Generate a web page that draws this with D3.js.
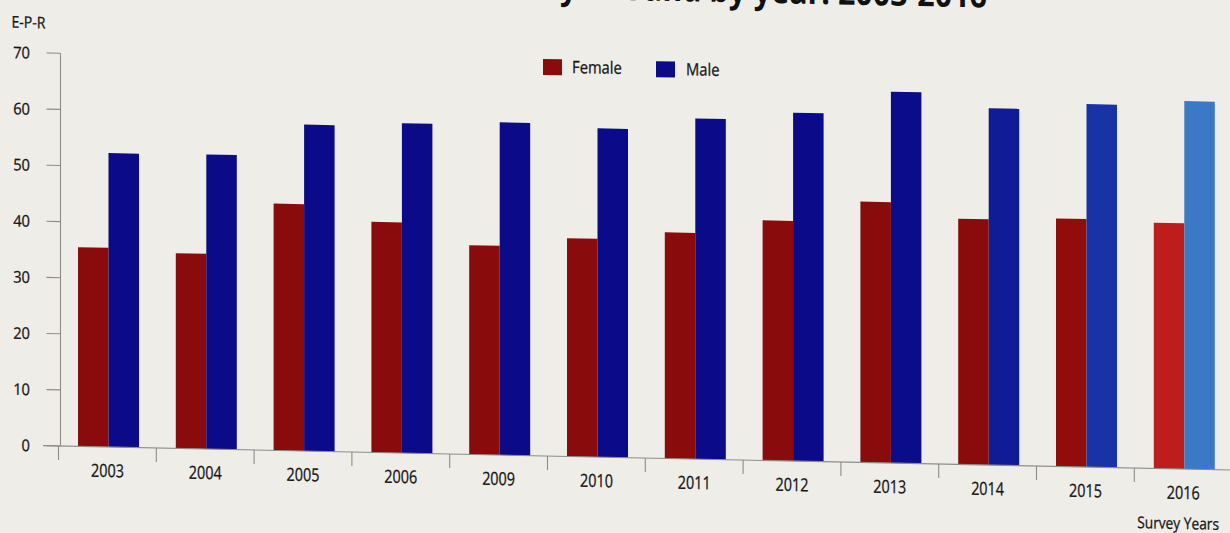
<!DOCTYPE html>
<html>
<head>
<meta charset="utf-8">
<script src="https://cdn.jsdelivr.net/npm/d3@7/dist/d3.min.js"></script>
<style>
  html, body { margin: 0; padding: 0; background: #efede8; }
  svg { display: block; }
  text { font-family: "Open Sans", "Noto Sans", sans-serif; fill: #161616; stroke: #161616; stroke-width: 0.3px; }
</style>
</head>
<body>
<svg id="chart" width="1230" height="533"></svg>
<script>
// ---- data ----
const years = ["2003","2004","2005","2006","2009","2010","2011","2012","2013","2014","2015","2016"];
const seriesNames = ["Female","Male"];
const female = [35.5, 34.8, 44.0, 41.1, 37.3, 38.9, 40.3, 42.8, 46.5, 43.8, 44.2, 43.8];
const male   = [52.4, 52.5, 58.2, 58.8, 59.3, 58.6, 60.7, 62.1, 66.2, 63.6, 64.7, 65.6];
const yTicks = [0, 10, 20, 30, 40, 50, 60, 70];
const yAxisTitle = "E-P-R";
const xAxisTitle = "Survey Years";
const chartTitle = "E-P-R by sex and by year: 2003-2016";

// ---- layout ----
const W = 1230, H = 533;
const svg = d3.select("#chart");
svg.append("rect").attr("width", W).attr("height", H).attr("fill", "#efede8");

// photographed page is slightly tilted: skew everything around the y axis
const tilt = Math.atan(0.0205) * 180 / Math.PI;
const g = svg.append("g").attr("transform", `translate(60,0) skewY(${tilt}) translate(-60,0)`);

const y = d3.scaleLinear().domain([0, 70]).range([446, 53.3]);
const step = 97.8;
const x0 = d3.scaleBand().domain(years).range([58.5, 58.5 + step * years.length]);
const x1 = d3.scaleBand().domain(seriesNames).range([19.5, 80.5]);

const femaleColor = d3.scaleLinear().domain([0, 1000, 1090, 1170])
  .range(["#8a0b0b", "#8a0b0b", "#940c0c", "#bd1d1d"]).clamp(true);
const maleColor = d3.scaleLinear().domain([0, 900, 1005, 1105, 1200])
  .range(["#0b0b8a", "#0b0b8a", "#0f1c96", "#1834a6", "#3b78c6"]).clamp(true);

function ctext(sel, x, yy, str, size, sx, anchor, weight) {
  return sel.append("text")
    .attr("transform", `translate(${x},${yy}) scale(${sx},1)`)
    .attr("text-anchor", anchor || "start")
    .style("font-size", size + "px")
    .style("font-weight", weight || 400)
    .text(str);
}

// title (only its bottom edge lies inside the picture)
ctext(g, 987, -11.5, chartTitle, 35, 0.87, "end", 700).style("fill", "#111").style("stroke", "none");

// y axis title
ctext(g, 11.5, 28.6, yAxisTitle, 16, 0.88, "start");

// bars
const rows = years.map((yr, i) => ({ year: yr, values: [female[i], male[i]] }));
const groups = g.selectAll("g.year").data(rows).join("g").attr("class", "year");
groups.selectAll("rect").data(d => seriesNames.map((s, k) => ({ year: d.year, series: s, value: d.values[k] })))
  .join("rect")
  .attr("x", d => x0(d.year) + x1(d.series))
  .attr("y", d => y(d.value))
  .attr("width", x1.bandwidth())
  .attr("height", d => y(0) - y(d.value))
  .attr("fill", d => {
    const cx = x0(d.year) + x1(d.series) + x1.bandwidth() / 2;
    return d.series === "Female" ? femaleColor(cx) : maleColor(cx);
  });

// y axis
const axisColor = "#8c8c8c";
const yAxisX = 60.5;
g.append("line").attr("x1", yAxisX).attr("x2", yAxisX).attr("y1", y(70)).attr("y2", y(0))
  .attr("stroke", axisColor).attr("stroke-width", 1.1);
yTicks.forEach(t => {
  g.append("line").attr("x1", yAxisX - 14).attr("x2", yAxisX).attr("y1", y(t)).attr("y2", y(t))
    .attr("stroke", axisColor).attr("stroke-width", 1.1);
  ctext(g, 30, y(t) + 5.8, String(t), 16, 0.92, "end");
});

// x axis
g.append("line").attr("x1", 43).attr("x2", 1240).attr("y1", y(0)).attr("y2", y(0))
  .attr("stroke", axisColor).attr("stroke-width", 1.1);
years.forEach(yr => {
  g.append("line").attr("x1", x0(yr)).attr("x2", x0(yr)).attr("y1", y(0)).attr("y2", y(0) + 14)
    .attr("stroke", axisColor).attr("stroke-width", 1.1);
  ctext(g, x0(yr) + x0.bandwidth() / 2, y(0) + 30, yr, 18, 0.8, "middle");
});
ctext(g, 1219, 506, xAxisTitle, 16, 0.86, "end");

// legend
const legendPos = [{ x: 543, tx: 572 }, { x: 656, tx: 686 }];
seriesNames.forEach((s, k) => {
  g.append("rect").attr("x", legendPos[k].x).attr("y", 49).attr("width", 19).attr("height", 16)
    .attr("fill", s === "Female" ? femaleColor(0) : maleColor(0));
  ctext(g, legendPos[k].tx, 62.5, s, 17, 0.87, "start");
});
</script>
</body>
</html>
